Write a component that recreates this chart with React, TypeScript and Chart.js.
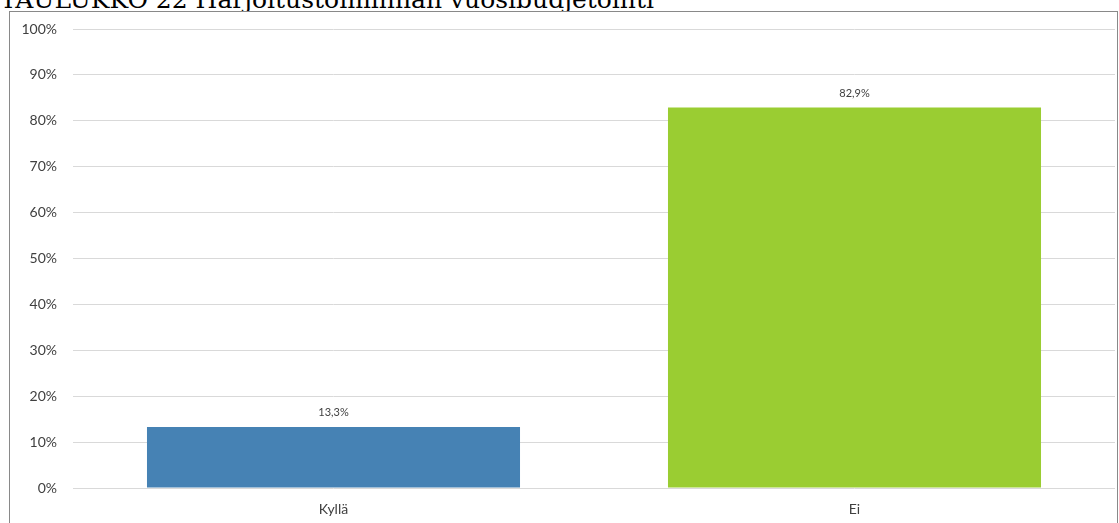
import React, { useEffect, useRef } from "react";
import { Chart, registerables } from "chart.js";

Chart.register(...registerables);

const TITLE = "TAULUKKO 22 Harjoitustoiminnan vuosibudjetointi";
const categories = ["Kyllä", "Ei"];
const values = [13.3, 82.9];
const barColors = ["#4682B4", "#9ACD32"];
const yTicks = [0, 10, 20, 30, 40, 50, 60, 70, 80, 90, 100];

const FONT = "Lato, 'Open Sans', sans-serif";

const dataLabelPlugin = {
  id: "dataLabels",
  afterDatasetsDraw(chart: any) {
    const ctx = chart.ctx;
    const meta = chart.getDatasetMeta(0);
    ctx.save();
    ctx.font = `11px ${FONT}`;
    ctx.fillStyle = "#404040";
    ctx.textAlign = "center";
    ctx.textBaseline = "middle";
    meta.data.forEach((el: any, i: number) => {
      const v = chart.data.datasets[0].data[i] as number;
      ctx.fillText(v.toFixed(1).replace(".", ",") + "%", el.x, el.y - 14);
    });
    ctx.restore();
  },
};

export default function App() {
  const ref = useRef<HTMLCanvasElement>(null);

  useEffect(() => {
    if (!ref.current) return;
    const chart = new Chart(ref.current, {
      type: "bar",
      data: {
        labels: categories,
        datasets: [
          {
            data: values,
            backgroundColor: barColors,
            borderWidth: 0,
            categoryPercentage: 1,
            barPercentage: 0.716,
          },
        ],
      },
      options: {
        animation: false,
        responsive: false,
        maintainAspectRatio: false,
        layout: { padding: { top: 29, right: 4, left: 0, bottom: 0 } },
        plugins: {
          legend: { display: false },
          tooltip: { enabled: false },
          title: { display: false },
        },
        scales: {
          x: {
            grid: { display: false, drawTicks: false },
            border: { display: false },
            ticks: {
              padding: 13,
              color: "#404040",
              font: { family: FONT, size: 14 },
            },
            afterFit(scale: any) {
              scale.height = 35;
            },
          },
          y: {
            min: 0,
            max: 100,
            afterBuildTicks(scale: any) {
              scale.ticks = yTicks.map((v) => ({ value: v }));
            },
            grid: { color: "#d9d9d9", drawTicks: false, lineWidth: 1 },
            border: { display: false },
            ticks: {
              padding: 16,
              color: "#404040",
              font: { family: FONT, size: 14 },
              callback: (v: any) => v + "%",
            },
            afterFit(scale: any) {
              scale.width = 73;
            },
          },
        },
      },
      plugins: [dataLabelPlugin],
    });
    return () => chart.destroy();
  }, []);

  return (
    <div
      style={{
        position: "fixed",
        left: 0,
        top: 0,
        width: 1119,
        height: 523,
        overflow: "hidden",
        background: "#ffffff",
      }}
    >
      <div
        style={{
          position: "absolute",
          left: 0,
          top: -13,
          fontFamily: "'DejaVu Serif', 'Liberation Serif', serif",
          fontSize: 25,
          lineHeight: "25px",
          whiteSpace: "nowrap",
          color: "#000",
        }}
      >
        {TITLE}
      </div>
      <div
        style={{
          position: "absolute",
          left: 9,
          top: 11,
          width: 1107,
          height: 600,
          border: "1px solid #898989",
          background: "#ffffff",
        }}
      />
      <canvas
        ref={ref}
        width={1119}
        height={523}
        style={{ position: "absolute", left: 0, top: 0, width: 1119, height: 523 }}
      />
    </div>
  );
}
